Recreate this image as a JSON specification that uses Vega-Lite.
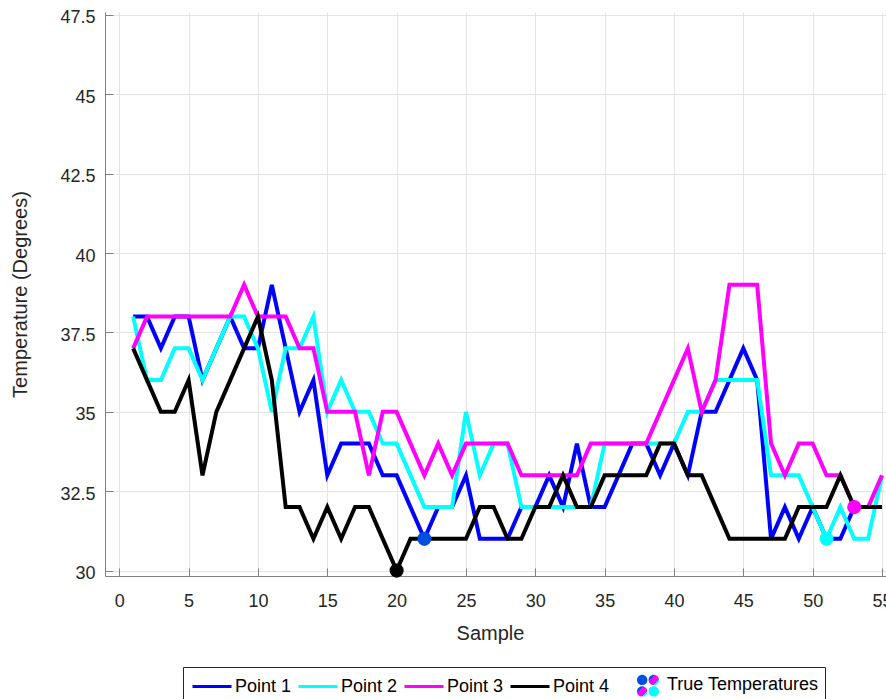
{
  "$schema": "https://vega.github.io/schema/vega-lite/v6.json",
  "width": 781,
  "height": 564,
  "autosize": {"type": "none"},
  "padding": {"left": 105, "top": 12, "right": 0, "bottom": 123},
  "background": "white",
  "config": {
    "view": {"stroke": null},
    "font": "Liberation Sans"
  },
  "datasets": {
    "lines": [
      {"series":"Point 1","sample":1,"temp":38},{"series":"Point 1","sample":2,"temp":38},{"series":"Point 1","sample":3,"temp":37},{"series":"Point 1","sample":4,"temp":38},{"series":"Point 1","sample":5,"temp":38},{"series":"Point 1","sample":6,"temp":36},{"series":"Point 1","sample":7,"temp":37},{"series":"Point 1","sample":8,"temp":38},{"series":"Point 1","sample":9,"temp":37},{"series":"Point 1","sample":10,"temp":37},{"series":"Point 1","sample":11,"temp":39},{"series":"Point 1","sample":12,"temp":37},{"series":"Point 1","sample":13,"temp":35},{"series":"Point 1","sample":14,"temp":36},{"series":"Point 1","sample":15,"temp":33},{"series":"Point 1","sample":16,"temp":34},{"series":"Point 1","sample":17,"temp":34},{"series":"Point 1","sample":18,"temp":34},{"series":"Point 1","sample":19,"temp":33},{"series":"Point 1","sample":20,"temp":33},{"series":"Point 1","sample":21,"temp":32},{"series":"Point 1","sample":22,"temp":31},{"series":"Point 1","sample":23,"temp":32},{"series":"Point 1","sample":24,"temp":32},{"series":"Point 1","sample":25,"temp":33},{"series":"Point 1","sample":26,"temp":31},{"series":"Point 1","sample":27,"temp":31},{"series":"Point 1","sample":28,"temp":31},{"series":"Point 1","sample":29,"temp":32},{"series":"Point 1","sample":30,"temp":32},{"series":"Point 1","sample":31,"temp":33},{"series":"Point 1","sample":32,"temp":32},{"series":"Point 1","sample":33,"temp":34},{"series":"Point 1","sample":34,"temp":32},{"series":"Point 1","sample":35,"temp":32},{"series":"Point 1","sample":36,"temp":33},{"series":"Point 1","sample":37,"temp":34},{"series":"Point 1","sample":38,"temp":34},{"series":"Point 1","sample":39,"temp":33},{"series":"Point 1","sample":40,"temp":34},{"series":"Point 1","sample":41,"temp":33},{"series":"Point 1","sample":42,"temp":35},{"series":"Point 1","sample":43,"temp":35},{"series":"Point 1","sample":44,"temp":36},{"series":"Point 1","sample":45,"temp":37},{"series":"Point 1","sample":46,"temp":36},{"series":"Point 1","sample":47,"temp":31},{"series":"Point 1","sample":48,"temp":32},{"series":"Point 1","sample":49,"temp":31},{"series":"Point 1","sample":50,"temp":32},{"series":"Point 1","sample":51,"temp":31},{"series":"Point 1","sample":52,"temp":31},{"series":"Point 1","sample":53,"temp":32},{"series":"Point 1","sample":54,"temp":32},{"series":"Point 1","sample":55,"temp":32},
      {"series":"Point 2","sample":1,"temp":38},{"series":"Point 2","sample":2,"temp":36},{"series":"Point 2","sample":3,"temp":36},{"series":"Point 2","sample":4,"temp":37},{"series":"Point 2","sample":5,"temp":37},{"series":"Point 2","sample":6,"temp":36},{"series":"Point 2","sample":7,"temp":37},{"series":"Point 2","sample":8,"temp":38},{"series":"Point 2","sample":9,"temp":38},{"series":"Point 2","sample":10,"temp":37},{"series":"Point 2","sample":11,"temp":35},{"series":"Point 2","sample":12,"temp":37},{"series":"Point 2","sample":13,"temp":37},{"series":"Point 2","sample":14,"temp":38},{"series":"Point 2","sample":15,"temp":35},{"series":"Point 2","sample":16,"temp":36},{"series":"Point 2","sample":17,"temp":35},{"series":"Point 2","sample":18,"temp":35},{"series":"Point 2","sample":19,"temp":34},{"series":"Point 2","sample":20,"temp":34},{"series":"Point 2","sample":21,"temp":33},{"series":"Point 2","sample":22,"temp":32},{"series":"Point 2","sample":23,"temp":32},{"series":"Point 2","sample":24,"temp":32},{"series":"Point 2","sample":25,"temp":35},{"series":"Point 2","sample":26,"temp":33},{"series":"Point 2","sample":27,"temp":34},{"series":"Point 2","sample":28,"temp":34},{"series":"Point 2","sample":29,"temp":32},{"series":"Point 2","sample":30,"temp":32},{"series":"Point 2","sample":31,"temp":32},{"series":"Point 2","sample":32,"temp":32},{"series":"Point 2","sample":33,"temp":32},{"series":"Point 2","sample":34,"temp":32},{"series":"Point 2","sample":35,"temp":34},{"series":"Point 2","sample":36,"temp":34},{"series":"Point 2","sample":37,"temp":34},{"series":"Point 2","sample":38,"temp":34},{"series":"Point 2","sample":39,"temp":34},{"series":"Point 2","sample":40,"temp":34},{"series":"Point 2","sample":41,"temp":35},{"series":"Point 2","sample":42,"temp":35},{"series":"Point 2","sample":43,"temp":36},{"series":"Point 2","sample":44,"temp":36},{"series":"Point 2","sample":45,"temp":36},{"series":"Point 2","sample":46,"temp":36},{"series":"Point 2","sample":47,"temp":33},{"series":"Point 2","sample":48,"temp":33},{"series":"Point 2","sample":49,"temp":33},{"series":"Point 2","sample":50,"temp":32},{"series":"Point 2","sample":51,"temp":31},{"series":"Point 2","sample":52,"temp":32},{"series":"Point 2","sample":53,"temp":31},{"series":"Point 2","sample":54,"temp":31},{"series":"Point 2","sample":55,"temp":33},
      {"series":"Point 3","sample":1,"temp":37},{"series":"Point 3","sample":2,"temp":38},{"series":"Point 3","sample":3,"temp":38},{"series":"Point 3","sample":4,"temp":38},{"series":"Point 3","sample":5,"temp":38},{"series":"Point 3","sample":6,"temp":38},{"series":"Point 3","sample":7,"temp":38},{"series":"Point 3","sample":8,"temp":38},{"series":"Point 3","sample":9,"temp":39},{"series":"Point 3","sample":10,"temp":38},{"series":"Point 3","sample":11,"temp":38},{"series":"Point 3","sample":12,"temp":38},{"series":"Point 3","sample":13,"temp":37},{"series":"Point 3","sample":14,"temp":37},{"series":"Point 3","sample":15,"temp":35},{"series":"Point 3","sample":16,"temp":35},{"series":"Point 3","sample":17,"temp":35},{"series":"Point 3","sample":18,"temp":33},{"series":"Point 3","sample":19,"temp":35},{"series":"Point 3","sample":20,"temp":35},{"series":"Point 3","sample":21,"temp":34},{"series":"Point 3","sample":22,"temp":33},{"series":"Point 3","sample":23,"temp":34},{"series":"Point 3","sample":24,"temp":33},{"series":"Point 3","sample":25,"temp":34},{"series":"Point 3","sample":26,"temp":34},{"series":"Point 3","sample":27,"temp":34},{"series":"Point 3","sample":28,"temp":34},{"series":"Point 3","sample":29,"temp":33},{"series":"Point 3","sample":30,"temp":33},{"series":"Point 3","sample":31,"temp":33},{"series":"Point 3","sample":32,"temp":33},{"series":"Point 3","sample":33,"temp":33},{"series":"Point 3","sample":34,"temp":34},{"series":"Point 3","sample":35,"temp":34},{"series":"Point 3","sample":36,"temp":34},{"series":"Point 3","sample":37,"temp":34},{"series":"Point 3","sample":38,"temp":34},{"series":"Point 3","sample":39,"temp":35},{"series":"Point 3","sample":40,"temp":36},{"series":"Point 3","sample":41,"temp":37},{"series":"Point 3","sample":42,"temp":35},{"series":"Point 3","sample":43,"temp":36},{"series":"Point 3","sample":44,"temp":39},{"series":"Point 3","sample":45,"temp":39},{"series":"Point 3","sample":46,"temp":39},{"series":"Point 3","sample":47,"temp":34},{"series":"Point 3","sample":48,"temp":33},{"series":"Point 3","sample":49,"temp":34},{"series":"Point 3","sample":50,"temp":34},{"series":"Point 3","sample":51,"temp":33},{"series":"Point 3","sample":52,"temp":33},{"series":"Point 3","sample":53,"temp":32},{"series":"Point 3","sample":54,"temp":32},{"series":"Point 3","sample":55,"temp":33},
      {"series":"Point 4","sample":1,"temp":37},{"series":"Point 4","sample":2,"temp":36},{"series":"Point 4","sample":3,"temp":35},{"series":"Point 4","sample":4,"temp":35},{"series":"Point 4","sample":5,"temp":36},{"series":"Point 4","sample":6,"temp":33},{"series":"Point 4","sample":7,"temp":35},{"series":"Point 4","sample":8,"temp":36},{"series":"Point 4","sample":9,"temp":37},{"series":"Point 4","sample":10,"temp":38},{"series":"Point 4","sample":11,"temp":36},{"series":"Point 4","sample":12,"temp":32},{"series":"Point 4","sample":13,"temp":32},{"series":"Point 4","sample":14,"temp":31},{"series":"Point 4","sample":15,"temp":32},{"series":"Point 4","sample":16,"temp":31},{"series":"Point 4","sample":17,"temp":32},{"series":"Point 4","sample":18,"temp":32},{"series":"Point 4","sample":19,"temp":31},{"series":"Point 4","sample":20,"temp":30},{"series":"Point 4","sample":21,"temp":31},{"series":"Point 4","sample":22,"temp":31},{"series":"Point 4","sample":23,"temp":31},{"series":"Point 4","sample":24,"temp":31},{"series":"Point 4","sample":25,"temp":31},{"series":"Point 4","sample":26,"temp":32},{"series":"Point 4","sample":27,"temp":32},{"series":"Point 4","sample":28,"temp":31},{"series":"Point 4","sample":29,"temp":31},{"series":"Point 4","sample":30,"temp":32},{"series":"Point 4","sample":31,"temp":32},{"series":"Point 4","sample":32,"temp":33},{"series":"Point 4","sample":33,"temp":32},{"series":"Point 4","sample":34,"temp":32},{"series":"Point 4","sample":35,"temp":33},{"series":"Point 4","sample":36,"temp":33},{"series":"Point 4","sample":37,"temp":33},{"series":"Point 4","sample":38,"temp":33},{"series":"Point 4","sample":39,"temp":34},{"series":"Point 4","sample":40,"temp":34},{"series":"Point 4","sample":41,"temp":33},{"series":"Point 4","sample":42,"temp":33},{"series":"Point 4","sample":43,"temp":32},{"series":"Point 4","sample":44,"temp":31},{"series":"Point 4","sample":45,"temp":31},{"series":"Point 4","sample":46,"temp":31},{"series":"Point 4","sample":47,"temp":31},{"series":"Point 4","sample":48,"temp":31},{"series":"Point 4","sample":49,"temp":32},{"series":"Point 4","sample":50,"temp":32},{"series":"Point 4","sample":51,"temp":32},{"series":"Point 4","sample":52,"temp":33},{"series":"Point 4","sample":53,"temp":32},{"series":"Point 4","sample":54,"temp":32},{"series":"Point 4","sample":55,"temp":32}
    ],
    "truth": [
      {"series":"Point 1","sample":22,"temp":31},
      {"series":"Point 2","sample":51,"temp":31},
      {"series":"Point 3","sample":53,"temp":32},
      {"series":"Point 4","sample":20,"temp":30}
    ]
  },
  "encoding": {
    "x": {
      "field": "sample", "type": "quantitative",
      "scale": {"domain": [-1.03, 55.29], "nice": false, "zero": false},
      "axis": {
        "title": "Sample",
        "values": [0,5,10,15,20,25,30,35,40,45,50,55],
        "format": "d",
        "grid": true, "gridColor": "#e3e3e3", "gridWidth": 1,
        "domainColor": "#808080", "domainWidth": 1,
        "tickColor": "#808080", "tickSize": -8, "tickWidth": 1,
        "labelPadding": 24, "labelFontSize": 18, "labelFont": "Liberation Sans", "labelColor": "#262626",
        "labelFlush": false, "labelOverlap": false, "labelBound": false,
        "titleFont": "Liberation Sans", "titleFontSize": 20, "titleFontWeight": "normal", "titleColor": "#262626",
        "titlePadding": 13, "titleX": 385
      }
    },
    "y": {
      "field": "temp", "type": "quantitative",
      "scale": {"domain": [29.83, 47.594], "nice": false, "zero": false},
      "axis": {
        "title": "Temperature (Degrees)",
        "values": [30,32.5,35,37.5,40,42.5,45,47.5],
        "format": ".1~f",
        "grid": true, "gridColor": "#e3e3e3", "gridWidth": 1,
        "domainColor": "#808080", "domainWidth": 1,
        "tickColor": "#808080", "tickSize": -8, "tickWidth": 1,
        "labelPadding": 18, "labelOffset": 3, "labelFontSize": 18, "labelFont": "Liberation Sans", "labelColor": "#262626",
        "labelFlush": false, "labelOverlap": false, "labelBound": false,
        "titleFont": "Liberation Sans", "titleFontSize": 20, "titleFontWeight": "normal", "titleColor": "#262626",
        "titlePadding": 29
      }
    }
  },
  "layer": [
    {
      "data": {"name": "lines"},
      "mark": {"type": "line", "strokeWidth": 4, "strokeJoin": "miter", "clip": true},
      "encoding": {
        "color": {
          "field": "series", "type": "nominal",
          "scale": {
            "domain": ["Point 1","Point 2","Point 3","Point 4","True Temperatures"],
            "range": ["#0000ff","#00ffff","#ff00ff","#000000","transparent"]
          },
          "legend": {
            "title": null,
            "orient": "none",
            "legendX": 78,
            "legendY": 655,
            "direction": "horizontal",
            "symbolType": "stroke",
            "symbolSize": 400,
            "symbolStrokeWidth": 3,
            "labelFont": "Liberation Sans",
            "labelFontSize": 18,
            "labelColor": "#000000",
            "labelOffset": 23,
            "columnPadding": 0,
            "padding": 6,
            "strokeColor": "#262626",
            "fillColor": "white",
            "encode": {
              "symbols": {
                "update": {
                  "shape": {"signal": "datum.value === 'True Temperatures' ? 'M1.55,-0.5a0.52,0.52 0 1,0 1.04,0a0.52,0.52 0 1,0 -1.04,0ZM2.71,-0.5a0.52,0.52 0 1,0 1.04,0a0.52,0.52 0 1,0 -1.04,0ZM1.55,0.65a0.52,0.52 0 1,0 1.04,0a0.52,0.52 0 1,0 -1.04,0ZM2.71,0.65a0.52,0.52 0 1,0 1.04,0a0.52,0.52 0 1,0 -1.04,0Z' : 'M-0.8,-0.55H3.1'"},
                  "stroke": {"signal": "datum.value === 'True Temperatures' ? 'transparent' : scale('color', datum.value)"},
                  "strokeWidth": {"value": 3},
                  "opacity": {"value": 1},
                  "fill": {"signal": "datum.value === 'True Temperatures' ? {gradient: 'linear', x1: 0, y1: 0, x2: 1, y2: 1, stops: [{offset: 0, color: '#0050e0'}, {offset: 0.4, color: '#0050e0'}, {offset: 0.4, color: '#ff00ff'}, {offset: 0.6, color: '#ff00ff'}, {offset: 0.6, color: '#00ffff'}, {offset: 1, color: '#00ffff'}]} : 'transparent'"}
                }
              },
              "labels": {
                "update": {
                  "dx": {"signal": "datum.value === 'True Temperatures' ? 11 : 0"},
                  "dy": {"signal": "datum.value === 'True Temperatures' ? 0.5 : -5.5"}
                }
              }
            }
          }
        }
      }
    },
    {
      "data": {"name": "truth"},
      "mark": {"type": "point", "filled": true, "shape": "circle", "size": 200, "opacity": 1},
      "encoding": {
        "fill": {
          "field": "series", "type": "nominal",
          "scale": {
            "domain": ["Point 1","Point 2","Point 3","Point 4"],
            "range": ["#0050e0","#00ffff","#ff00ff","#000000"]
          },
          "legend": null
        }
      }
    }
  ]
}
